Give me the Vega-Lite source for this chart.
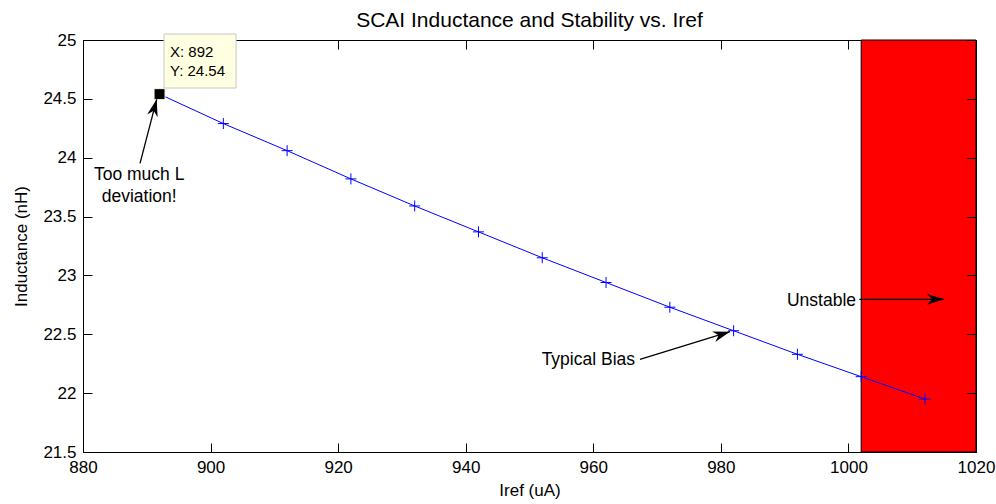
{
  "$schema": "https://vega.github.io/schema/vega-lite/v6.json",
  "width": 893,
  "height": 412,
  "autosize": {"type": "none"},
  "padding": {"left": 83, "top": 40, "right": 20, "bottom": 52},
  "background": "white",
  "title": {
    "text": "SCAI Inductance and Stability vs. Iref",
    "font": "Liberation Sans",
    "fontSize": 21,
    "fontWeight": "normal",
    "color": "black",
    "baseline": "bottom",
    "frame": "group",
    "offset": 0,
    "dy": 21,
    "anchor": "middle"
  },
  "datasets": {
    "series": [
      {"iref": 892, "L": 24.54},
      {"iref": 902, "L": 24.29},
      {"iref": 912, "L": 24.06},
      {"iref": 922, "L": 23.82},
      {"iref": 932, "L": 23.59},
      {"iref": 942, "L": 23.37},
      {"iref": 952, "L": 23.15},
      {"iref": 962, "L": 22.94},
      {"iref": 972, "L": 22.73},
      {"iref": 982, "L": 22.53},
      {"iref": 992, "L": 22.33},
      {"iref": 1002, "L": 22.14},
      {"iref": 1012, "L": 21.95}
    ],
    "unstable": [{"x0": 1002, "x1": 1020, "y0": 21.5, "y1": 25}],
    "tip": [{"iref": 892, "L": 24.54}],
    "tipbox": [{"x0": 892.7, "x1": 904.0, "y0": 24.592, "y1": 25.051}],
    "tiptext": [
      {"x": 893.64, "y": 24.856, "t": "X: 892"},
      {"x": 893.64, "y": 24.694, "t": "Y: 24.54"}
    ],
    "arrows": [
      {"x": 888.94, "y": 23.952, "x2": 891.55, "y2": 24.496, "a": 14.6},
      {"x": 967.32, "y": 22.287, "x2": 981.43, "y2": 22.522, "a": 72.9},
      {"x": 1001.7, "y": 22.797, "x2": 1014.98, "y2": 22.797, "a": 90}
    ],
    "centerText": [
      {"x": 888.81, "y": 23.811, "t": "Too much L"},
      {"x": 888.81, "y": 23.624, "t": "deviation!"}
    ],
    "rightText": [
      {"x": 966.54, "y": 22.235, "t": "Typical Bias"},
      {"x": 1001.19, "y": 22.74, "t": "Unstable"}
    ]
  },
  "layer": [
    {
      "data": {"name": "unstable"},
      "mark": {"type": "rect", "fill": "#FF0000", "stroke": "black", "strokeWidth": 1},
      "encoding": {
        "x": {
          "field": "x0", "type": "quantitative",
          "scale": {"domain": [880, 1020], "nice": false, "zero": false},
          "axis": {"orient": "bottom", "values": [880, 900, 920, 940, 960, 980, 1000, 1020], "format": "d", "title": "Iref (uA)"}
        },
        "x2": {"field": "x1"},
        "y": {
          "field": "y0", "type": "quantitative",
          "scale": {"domain": [21.5, 25], "nice": false, "zero": false},
          "axis": {"orient": "left", "values": [21.5, 22, 22.5, 23, 23.5, 24, 24.5, 25], "format": "~g", "title": "Inductance (nH)", "titlePadding": 12}
        },
        "y2": {"field": "y1"}
      }
    },
    {
      "data": {"name": "series"},
      "mark": {"type": "line", "color": "#0000FF", "strokeWidth": 1},
      "encoding": {
        "x": {
          "field": "iref", "type": "quantitative",
          "scale": {"domain": [880, 1020], "nice": false, "zero": false},
          "axis": {"orient": "top", "values": [880, 900, 920, 940, 960, 980, 1000, 1020], "labels": false, "title": null, "labelPadding": 0}
        },
        "y": {
          "field": "L", "type": "quantitative",
          "scale": {"domain": [21.5, 25], "nice": false, "zero": false},
          "axis": {"orient": "right", "values": [21.5, 22, 22.5, 23, 23.5, 24, 24.5, 25], "labels": false, "title": null, "labelPadding": 0, "zindex": 1}
        }
      }
    },
    {
      "data": {"name": "series"},
      "mark": {"type": "point", "shape": "M-1,0L1,0M0,-1L0,1", "filled": false, "stroke": "#0000FF", "strokeWidth": 1, "size": 121, "opacity": 1},
      "encoding": {
        "x": {"field": "iref", "type": "quantitative", "scale": {"domain": [880, 1020], "nice": false, "zero": false}, "axis": null},
        "y": {"field": "L", "type": "quantitative", "scale": {"domain": [21.5, 25], "nice": false, "zero": false}, "axis": null}
      }
    },
    {
      "data": {"name": "tip"},
      "mark": {"type": "point", "shape": "square", "filled": true, "color": "black", "size": 121, "opacity": 1, "stroke": "#FFFFE1", "strokeWidth": 1},
      "encoding": {
        "x": {"field": "iref", "type": "quantitative", "scale": {"domain": [880, 1020], "nice": false, "zero": false}, "axis": null},
        "y": {"field": "L", "type": "quantitative", "scale": {"domain": [21.5, 25], "nice": false, "zero": false}, "axis": null}
      }
    },
    {
      "data": {"name": "tipbox"},
      "mark": {"type": "rect", "fill": "#FFFFE1", "stroke": "#C8C8C8", "strokeWidth": 1},
      "encoding": {
        "x": {"field": "x0", "type": "quantitative", "scale": {"domain": [880, 1020], "nice": false, "zero": false}, "axis": null},
        "x2": {"field": "x1"},
        "y": {"field": "y0", "type": "quantitative", "scale": {"domain": [21.5, 25], "nice": false, "zero": false}, "axis": null},
        "y2": {"field": "y1"}
      }
    },
    {
      "data": {"name": "tiptext"},
      "mark": {"type": "text", "align": "left", "baseline": "alphabetic", "font": "Liberation Sans", "fontSize": 15, "color": "black"},
      "encoding": {
        "x": {"field": "x", "type": "quantitative", "scale": {"domain": [880, 1020], "nice": false, "zero": false}, "axis": null},
        "y": {"field": "y", "type": "quantitative", "scale": {"domain": [21.5, 25], "nice": false, "zero": false}, "axis": null},
        "text": {"field": "t"}
      }
    },
    {
      "data": {"name": "arrows"},
      "mark": {"type": "rule", "color": "black", "strokeWidth": 1.3},
      "encoding": {
        "x": {"field": "x", "type": "quantitative", "scale": {"domain": [880, 1020], "nice": false, "zero": false}, "axis": null},
        "y": {"field": "y", "type": "quantitative", "scale": {"domain": [21.5, 25], "nice": false, "zero": false}, "axis": null},
        "x2": {"field": "x2"},
        "y2": {"field": "y2"}
      }
    },
    {
      "data": {"name": "arrows"},
      "mark": {"type": "point", "shape": "M0,0L0.32,1L0,0.7L-0.32,1Z", "filled": true, "color": "black", "size": 1156, "opacity": 1},
      "encoding": {
        "x": {"field": "x2", "type": "quantitative", "scale": {"domain": [880, 1020], "nice": false, "zero": false}, "axis": null},
        "y": {"field": "y2", "type": "quantitative", "scale": {"domain": [21.5, 25], "nice": false, "zero": false}, "axis": null},
        "angle": {"field": "a", "type": "quantitative", "scale": null}
      }
    },
    {
      "data": {"name": "centerText"},
      "mark": {"type": "text", "align": "center", "baseline": "alphabetic", "font": "Liberation Sans", "fontSize": 17.5, "color": "black"},
      "encoding": {
        "x": {"field": "x", "type": "quantitative", "scale": {"domain": [880, 1020], "nice": false, "zero": false}, "axis": null},
        "y": {"field": "y", "type": "quantitative", "scale": {"domain": [21.5, 25], "nice": false, "zero": false}, "axis": null},
        "text": {"field": "t"}
      }
    },
    {
      "data": {"name": "rightText"},
      "mark": {"type": "text", "align": "right", "baseline": "alphabetic", "font": "Liberation Sans", "fontSize": 17.5, "color": "black"},
      "encoding": {
        "x": {"field": "x", "type": "quantitative", "scale": {"domain": [880, 1020], "nice": false, "zero": false}, "axis": null},
        "y": {"field": "y", "type": "quantitative", "scale": {"domain": [21.5, 25], "nice": false, "zero": false}, "axis": null},
        "text": {"field": "t"}
      }
    }
  ],
  "resolve": {"axis": {"x": "independent", "y": "independent"}},
  "config": {
    "view": {"stroke": null},
    "axis": {
      "grid": false,
      "domainColor": "black",
      "domainWidth": 1,
      "tickColor": "black",
      "tickWidth": 1,
      "tickSize": -9,
      "labelPadding": 16,
      "labelColor": "black",
      "labelFont": "Liberation Sans",
      "labelFontSize": 17,
      "labelFlush": false,
      "labelOverlap": false,
      "titleColor": "black",
      "titleFont": "Liberation Sans",
      "titleFontSize": 17,
      "titleFontWeight": "normal",
      "titlePadding": 7
    }
  }
}
